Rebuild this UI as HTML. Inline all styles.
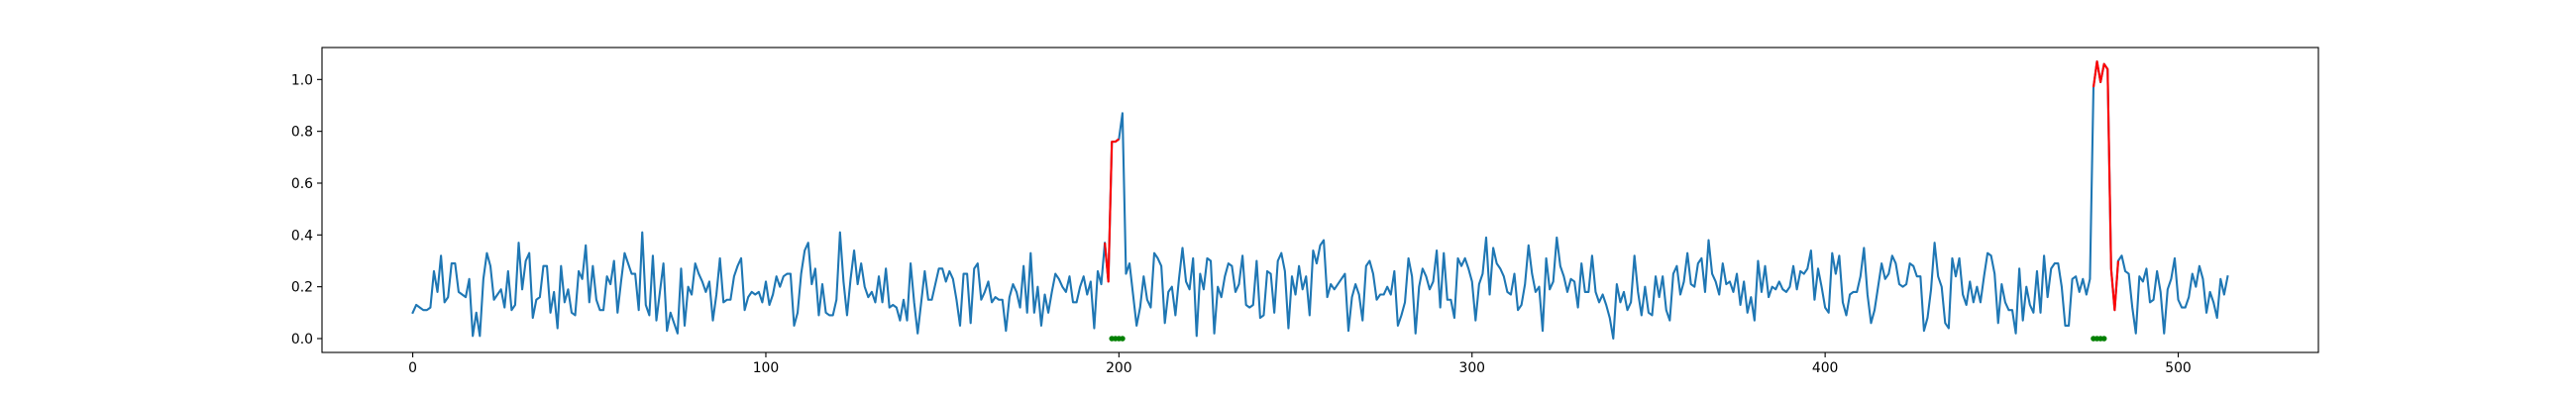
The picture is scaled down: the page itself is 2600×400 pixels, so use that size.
<!DOCTYPE html>
<html><head><meta charset="utf-8"><style>
body{margin:0;background:#fff;}
svg{display:block;font-family:"DejaVu Sans","Liberation Sans",sans-serif;}
</style></head><body>
<svg id="chart" width="2600" height="400" viewBox="0 0 2600 400" xmlns="http://www.w3.org/2000/svg">
<rect width="2600" height="400" fill="#fff"/>
<g id="plot"></g>
</svg>
<script>
const values = [
0.10,0.13,0.12,0.11,0.11,0.12,0.26,0.18,0.32,0.14,0.16,0.29,0.29,0.18,0.17,0.16,0.23,0.01,0.10,0.01,0.23,0.33,0.28,0.15,0.17,0.19,0.12,0.26,0.11,0.13,0.37,0.19,0.30,0.33,0.08,0.15,0.16,0.28,0.28,0.10,0.18,0.04,0.28,0.14,0.19,0.10,0.09,0.26,0.23,0.36,0.14,0.28,0.15,0.11,0.11,0.24,0.21,0.30,0.10,0.22,0.33,0.29,0.25,
0.25,0.11,0.41,0.13,0.09,0.32,0.07,0.18,0.29,0.03,0.10,0.06,0.02,0.27,0.05,0.20,0.17,0.29,0.25,0.22,0.18,0.22,0.07,0.17,0.31,0.14,0.15,0.15,0.24,0.28,0.31,0.11,0.16,0.18,0.17,0.18,0.14,0.22,0.13,0.17,0.24,0.20,0.24,0.25,0.25,0.05,0.10,0.25,0.34,0.37,0.21,0.27,0.09,0.21,0.10,0.09,0.09,0.15,0.41,0.22,0.09,0.23,0.34,0.21,0.29,
0.20,0.16,0.18,0.14,0.24,0.14,0.27,0.12,0.13,0.12,0.07,0.15,0.07,0.29,0.14,0.02,0.14,0.26,0.15,0.15,0.21,0.27,0.27,0.22,0.26,0.23,0.15,0.05,0.25,0.25,0.06,0.27,0.29,0.15,0.18,0.22,0.14,0.16,0.15,0.15,0.03,0.16,0.21,0.18,0.12,0.28,0.10,0.33,0.10,0.20,0.05,0.17,0.10,0.18,0.25,0.23,0.20,0.18,0.24,0.14,0.14,0.20,0.24,0.17,
0.22,0.04,0.26,0.21,0.37,0.22,0.76,0.76,0.77,0.87,0.25,0.29,0.17,0.05,0.12,0.24,0.15,0.12,0.33,0.31,0.28,0.06,0.18,0.20,0.09,0.23,0.35,0.22,0.19,0.31,0.01,0.25,0.19,0.31,0.30,0.02,0.20,0.16,0.24,0.29,0.28,0.18,0.21,0.32,0.13,0.12,0.13,0.30,0.08,0.09,0.26,0.25,0.10,0.30,0.33,0.26,0.04,0.24,0.17,0.28,0.19,0.24,0.09,0.34,0.29,
0.36,0.38,0.16,0.21,0.19,0.21,0.23,0.25,0.03,0.16,0.21,0.17,0.07,0.28,0.30,0.25,0.15,0.17,0.17,0.20,0.17,0.26,0.05,0.09,0.14,0.31,0.24,0.02,0.20,0.27,0.24,0.19,0.22,0.34,0.12,0.33,0.15,0.15,0.08,0.31,0.28,0.31,0.27,0.22,0.07,0.21,0.25,0.39,0.17,0.35,0.29,0.27,0.24,0.18,0.17,0.25,0.11,0.13,0.21,0.36,0.25,0.18,0.20,0.03,
0.31,
0.19,0.22,0.39,0.28,0.24,0.18,0.23,0.22,0.12,0.29,0.18,0.18,0.32,0.18,0.14,0.17,0.13,0.08,0.00,0.21,0.14,0.18,0.11,0.14,0.32,0.18,0.09,0.20,0.10,0.09,0.24,0.16,0.24,0.11,0.07,0.25,0.28,0.17,0.22,0.33,0.21,0.20,0.29,0.31,0.18,0.38,0.25,0.22,0.17,0.29,0.21,0.22,0.18,0.25,0.13,0.22,0.10,0.16,0.07,0.30,0.18,0.28,0.16,0.20,
0.19,0.22,0.19,0.18,0.20,0.28,0.19,0.26,0.25,0.27,0.34,0.15,0.27,0.20,0.12,0.10,0.33,0.25,0.32,0.14,0.09,0.17,0.18,0.18,0.24,0.35,0.17,0.06,0.11,0.20,0.29,0.23,0.25,0.32,0.29,0.21,0.20,0.21,0.29,0.28,0.24,0.24,0.03,0.08,0.19,0.37,0.24,0.20,0.06,0.04,0.31,0.24,0.31,0.17,0.13,0.22,0.14,0.20,0.14,0.24,0.33,0.32,0.25,0.06,
0.21,0.14,0.11,0.11,0.02,0.27,0.07,0.20,0.13,0.10,0.26,0.10,0.32,0.16,0.27,0.29,0.29,0.20,0.05,0.05,0.23,0.24,0.18,0.23,0.17,0.23,0.97,1.07,0.99,1.06,1.04,0.27,0.11,0.30,0.32,0.26,0.25,0.12,0.02,0.24,0.22,0.27,0.14,0.15,0.26,0.18,0.02,0.19,0.23,0.31,0.15,0.12,0.12,0.16,0.25,0.20,0.28,0.23,0.10,0.18,0.14,0.08,0.23,0.17,0.24
];
const anomalyRanges = [[196,200],[476,483]];
const markerIdx = [198,199,200,201,476,477,478,479];
const xTicks = [0,100,200,300,400,500];
const yTicks = [0.0,0.2,0.4,0.6,0.8,1.0];
const yTickLabels = ["0.0","0.2","0.4","0.6","0.8","1.0"];

const L=325,R=2340,T=48,B=356;
const n=values.length;
const xmin=-0.05*(n-1), xmax=(n-1)*1.05;
const vmin=Math.min(...values), vmax=Math.max(...values);
const ymin=vmin-0.05*(vmax-vmin), ymax=vmax+0.05*(vmax-vmin);
const xs=v=>L+(v-xmin)/(xmax-xmin)*(R-L);
const ys=v=>B-(v-ymin)/(ymax-ymin)*(B-T);
const NS="http://www.w3.org/2000/svg";
const g=document.getElementById('plot');
function mk(tag,attrs){const e=document.createElementNS(NS,tag);for(const k in attrs)e.setAttribute(k,attrs[k]);g.appendChild(e);return e;}

let d=values.map((v,i)=>(i?'L':'M')+xs(i).toFixed(2)+','+ys(v).toFixed(2)).join('');
const line=mk('path',{d:d,fill:'none',stroke:'#1f77b4','stroke-width':2.1,'stroke-linejoin':'round','stroke-linecap':'square'});


anomalyRanges.forEach((r,k)=>{
  let p='';for(let i=r[0];i<=r[1];i++)p+=(i===r[0]?'M':'L')+xs(i).toFixed(2)+','+ys(values[i]).toFixed(2);
  const a=mk('path',{d:p,fill:'none',stroke:'#ff0000','stroke-width':2.1,'stroke-linejoin':'round'});
  
  
});
markerIdx.forEach(i=>{
  const c=mk('circle',{cx:xs(i),cy:ys(0),r:2.8,fill:'#008000'});
  
  
});
const frame=mk('rect',{x:L,y:T,width:R-L,height:B-T,fill:'none',stroke:'#000','stroke-width':1.1});


xTicks.forEach(t=>{
  const x=xs(t);
  const tk=mk('line',{x1:x,x2:x,y1:B,y2:B+5,stroke:'#000','stroke-width':1.1});
  
  
  const tx=mk('text',{x:x,y:B+20,'text-anchor':'middle','font-size':13.9,fill:'#000'});
  tx.textContent=String(t);
  
  
});
yTicks.forEach((t,k)=>{
  const y=ys(t);
  const tk=mk('line',{x1:L-5,x2:L,y1:y,y2:y,stroke:'#000','stroke-width':1.1});
  
  
  const tx=mk('text',{x:L-9,y:y+5,'text-anchor':'end','font-size':13.9,fill:'#000'});
  tx.textContent=yTickLabels[k];
  
  
});
</script>
</body></html>
